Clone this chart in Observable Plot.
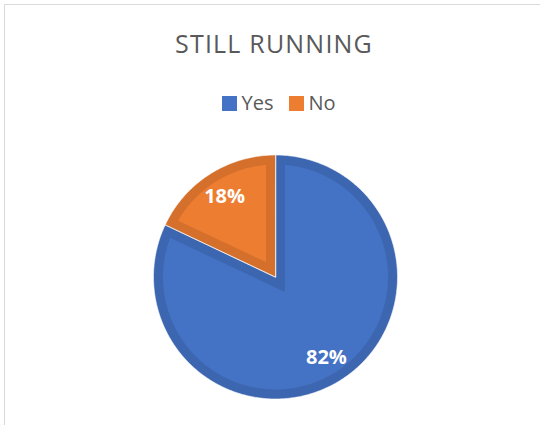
<!DOCTYPE html>
<html><head><meta charset="utf-8">
<script src="https://cdn.jsdelivr.net/npm/d3@7"></script>
<script src="https://cdn.jsdelivr.net/npm/@observablehq/plot@0.6"></script>
<style>
html,body{margin:0;padding:0;background:#fff;overflow:hidden;width:540px;height:425px;}
#frame{position:absolute;left:4px;top:4px;width:700px;height:600px;border:1.5px solid #d9d9d9;box-sizing:border-box;}
#title{position:absolute;left:0;width:548px;top:26px;text-align:center;font-family:"Open Sans",sans-serif;font-size:25px;line-height:34px;letter-spacing:1.2px;color:#595959;}
#legend{position:absolute;left:5px;width:548px;top:89px;display:flex;justify-content:center;align-items:center;font-family:"Open Sans",sans-serif;font-size:20px;line-height:28px;color:#595959;}
.item{display:flex;align-items:center;margin:0 8px;}
.sw{width:15px;height:15px;margin-right:4px;}
#chart{position:absolute;left:0;top:125px;}
</style></head>
<body>
<div id="frame"></div>
<div id="title"></div>
<div id="legend"></div>
<div id="chart"></div>
<script>
// ---- data ----
const title = "STILL RUNNING";
const categories = ["Yes", "No"];
const values = [82, 18];
const labels = ["82%", "18%"];
const colors = ["#4472C4", "#ED7D31"];

// ---- layout ----
const W = 540, H = 300, CX = 275, CY = 151.5, R = 122, BAND = 9.5 / 122, LABEL_R = 95 / 122;

document.getElementById("title").textContent = title;
const legend = document.getElementById("legend");
categories.forEach((c, i) => {
  const it = document.createElement("div"); it.className = "item";
  const sw = document.createElement("div"); sw.className = "sw"; sw.style.background = colors[i];
  const tx = document.createElement("span"); tx.textContent = c;
  it.appendChild(sw); it.appendChild(tx); legend.appendChild(it);
});

const total = d3.sum(values);
let acc = 0;
const slices = categories.map((c, i) => {
  const a0 = acc / total * 2 * Math.PI;
  acc += values[i];
  const a1 = acc / total * 2 * Math.PI;
  return {cat: c, a0, a1, label: labels[i]};
});

const pt = (a, r) => ({x: r * Math.sin(a), y: r * Math.cos(a)});
const outer = [], inner = [], labelPts = [];
for (const s of slices) {
  const n = Math.max(8, Math.ceil((s.a1 - s.a0) / 0.01));
  outer.push({cat: s.cat, ...pt(0, 0)});
  for (let k = 0; k <= n; k++) outer.push({cat: s.cat, ...pt(s.a0 + (s.a1 - s.a0) * k / n, 1)});
  const th = s.a1 - s.a0, m = (s.a0 + s.a1) / 2;
  const r2 = 1 - BAND, off = Math.asin(BAND / r2);
  inner.push({cat: s.cat, ...pt(m, BAND / Math.sin(th / 2))});
  const b0 = s.a0 + off, b1 = s.a1 - off;
  for (let k = 0; k <= n; k++) inner.push({cat: s.cat, ...pt(b0 + (b1 - b0) * k / n, r2)});
  labelPts.push({cat: s.cat, label: s.label, ...pt(m, LABEL_R)});
}

const chart = Plot.plot({
  width: W, height: H, margin: 0,
  x: {domain: [-CX / R, (W - CX) / R], axis: null},
  y: {domain: [-(H - CY) / R, CY / R], axis: null},
  color: {domain: categories, range: colors},
  style: {background: "transparent", overflow: "visible"},
  marks: [
    Plot.line(outer, {x: "x", y: "y", z: "cat", fill: "cat", stroke: "none", curve: "linear-closed"}),
    Plot.line(outer, {x: "x", y: "y", z: "cat", fill: "black", fillOpacity: 0.1, stroke: "white", strokeWidth: 0.6, curve: "linear-closed"}),
    Plot.line(inner, {x: "x", y: "y", z: "cat", fill: "cat", stroke: "none", curve: "linear-closed"}),
    Plot.text(labelPts, {x: "x", y: "y", text: "label", fill: "white", fontSize: 20, fontWeight: "bold", fontFamily: "Open Sans"})
  ]
});
document.getElementById("chart").appendChild(chart);
</script>
</body></html>
